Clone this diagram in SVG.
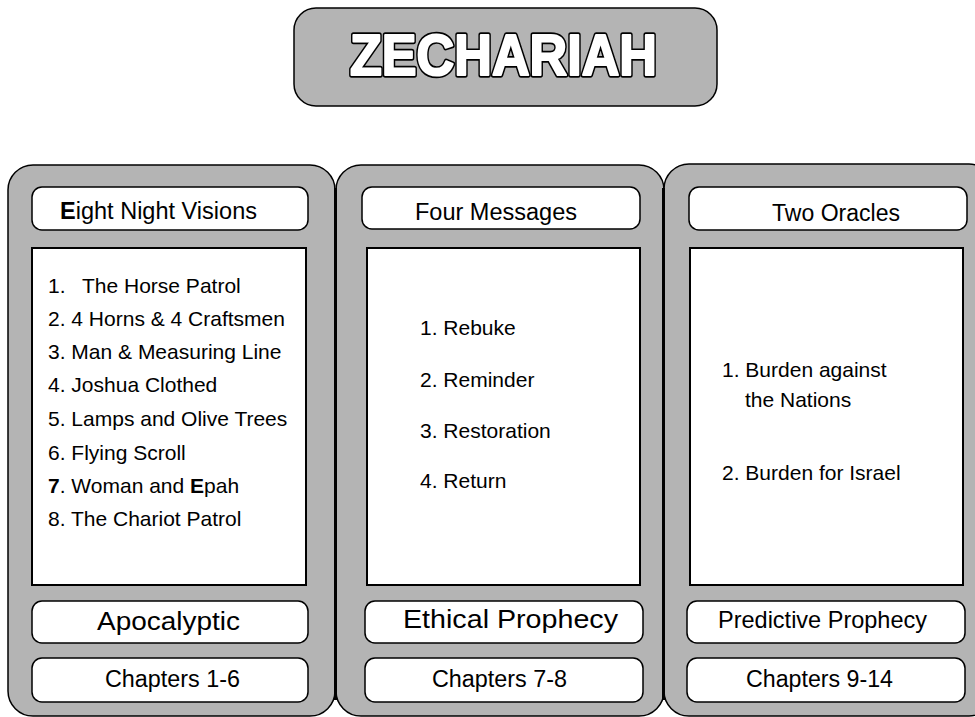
<svg xmlns="http://www.w3.org/2000/svg" width="975" height="717" viewBox="0 0 975 717">
<style>
.panel{fill:#b4b4b4;stroke:#000;stroke-width:1.5}
.pill{fill:#fff;stroke:#000;stroke-width:1.5}
.content{fill:#fff;stroke:#000;stroke-width:2}
text{font-family:"Liberation Sans",Arial,sans-serif;fill:#000}
.hdr{font-size:23px}
.item{font-size:21px}
.lbl{font-size:26px}
.ch{font-size:23px}
.title{font-size:58px;font-weight:bold;stroke-linejoin:round}
.tout{fill:#000;stroke:#000;stroke-width:5.5}
.tin{fill:#fff;stroke:#fff;stroke-width:2.2}
.divider{stroke:#000;stroke-width:3}
</style>
<rect width="975" height="717" fill="#fff"/>
<g id="title">
<rect x="294" y="8" width="423" height="98" rx="22" class="panel"/>
<text x="350" y="75" class="title tout" textLength="307" lengthAdjust="spacingAndGlyphs">ZECHARIAH</text>
<text x="350" y="75" class="title tin" textLength="307" lengthAdjust="spacingAndGlyphs">ZECHARIAH</text>
</g>
<g id="col1">
<rect x="8" y="165" width="327" height="551" rx="25" class="panel"/>
<rect x="32" y="187" width="276" height="43" rx="10" class="pill"/>
<text x="60" y="219" class="hdr" textLength="197" lengthAdjust="spacingAndGlyphs"><tspan font-weight="bold">E</tspan>ight Night Visions</text>
<rect x="32" y="248" width="274" height="337" class="content"/>
<g class="item">
<text x="48" y="293">1.<tspan x="82">The Horse Patrol</tspan></text>
<text x="48" y="326">2. 4 Horns &amp; 4 Craftsmen</text>
<text x="48" y="359">3. Man &amp; Measuring Line</text>
<text x="48" y="392">4. Joshua Clothed</text>
<text x="48" y="426">5. Lamps and Olive Trees</text>
<text x="48" y="460">6. Flying Scroll</text>
<text x="48" y="493"><tspan font-weight="bold">7</tspan>. Woman and <tspan font-weight="bold">E</tspan>pah</text>
<text x="48" y="526">8. The Chariot Patrol</text>
</g>
<rect x="32" y="601" width="276" height="42" rx="10" class="pill"/>
<text x="97" y="630" class="lbl" textLength="143" lengthAdjust="spacingAndGlyphs">Apocalyptic</text>
<rect x="32" y="658" width="276" height="44" rx="10" class="pill"/>
<text x="105" y="687" class="ch" textLength="135" lengthAdjust="spacingAndGlyphs">Chapters 1-6</text>
</g>
<g id="col2">
<rect x="336" y="165" width="328" height="551" rx="25" class="panel"/>
<rect x="362" y="187" width="278" height="42" rx="10" class="pill"/>
<text x="415" y="220" class="hdr" textLength="162" lengthAdjust="spacingAndGlyphs">Four Messages</text>
<rect x="367" y="248" width="273" height="337" class="content"/>
<g class="item">
<text x="420" y="335">1. Rebuke</text>
<text x="420" y="387">2. Reminder</text>
<text x="420" y="438">3. Restoration</text>
<text x="420" y="488">4. Return</text>
</g>
<rect x="365" y="601" width="278" height="42" rx="10" class="pill"/>
<text x="403" y="628" class="lbl" font-size="28" textLength="215" lengthAdjust="spacingAndGlyphs">Ethical Prophecy</text>
<rect x="365" y="658" width="278" height="44" rx="10" class="pill"/>
<text x="432" y="687" class="ch" textLength="135" lengthAdjust="spacingAndGlyphs">Chapters 7-8</text>
</g>
<g id="col3">
<rect x="664" y="164" width="330" height="552" rx="25" class="panel"/>
<rect x="689" y="187" width="278" height="43" rx="10" class="pill"/>
<text x="772" y="221" class="hdr" textLength="128" lengthAdjust="spacingAndGlyphs">Two Oracles</text>
<rect x="690" y="248" width="273" height="337" class="content"/>
<g class="item">
<text x="722" y="377">1. Burden against</text>
<text x="745" y="407">the Nations</text>
<text x="722" y="480">2. Burden for Israel</text>
</g>
<rect x="687" y="601" width="278" height="42" rx="10" class="pill"/>
<text x="718" y="628" font-size="24" textLength="209" lengthAdjust="spacingAndGlyphs">Predictive Prophecy</text>
<rect x="687" y="658" width="278" height="44" rx="10" class="pill"/>
<text x="746" y="687" class="ch" textLength="147" lengthAdjust="spacingAndGlyphs">Chapters 9-14</text>
</g>
<g id="dividers">
<line x1="335.5" y1="188" x2="335.5" y2="700" class="divider"/>
<line x1="663.5" y1="188" x2="663.5" y2="700" class="divider"/>
</g>
<g id="connectors"/>
</svg>
